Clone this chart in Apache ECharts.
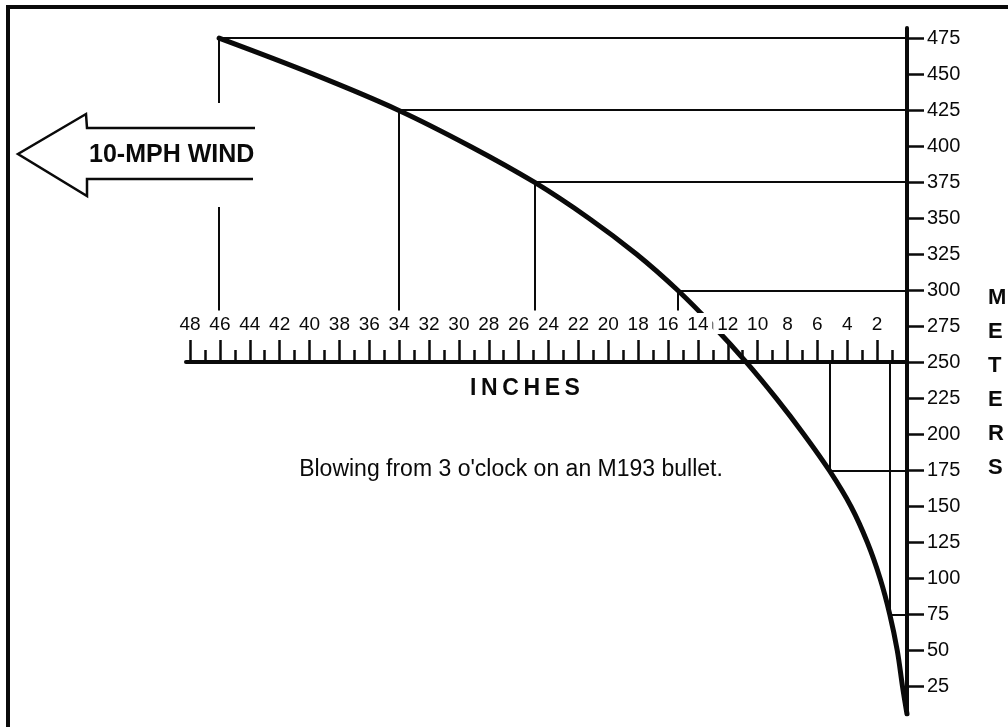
<!DOCTYPE html>
<html>
<head>
<meta charset="utf-8">
<script src="https://cdn.jsdelivr.net/npm/echarts@6/dist/echarts.min.js"></script>
<style>
  html, body { margin: 0; padding: 0; background: #fff; }
  #chart { width: 1008px; height: 727px; }
</style>
</head>
<body>
<div id="chart"></div>
<script>
// Range in meters and horizontal wind drift in inches for the trajectory
const meters = [6, 25, 50, 75, 100, 125, 150, 175, 200, 225, 250, 275, 300, 325, 350, 375, 400, 425, 450, 475];
const driftInches = [0, 0.3, 0.65, 1.15, 1.8, 2.65, 3.75, 5.2, 6.9, 8.75, 10.75, 12.95, 15.35, 18.1, 21.3, 24.95, 29.25, 34.05, 39.75, 46.05];

// Ranges called out with leader lines
const markedMeters = [475, 425, 375, 300, 175, 75];

// Range scale tick labels (meters) and ruler labels (inches)
const meterTicks = [25, 50, 75, 100, 125, 150, 175, 200, 225, 250, 275, 300, 325, 350, 375, 400, 425, 450, 475];
const inchTicks = [2, 4, 6, 8, 10, 12, 14, 16, 18, 20, 22, 24, 26, 28, 30, 32, 34, 36, 38, 40, 42, 44, 46, 48];

const rulerMeters = 250;       // the inch ruler sits at this range
const leaderStopMeters = 286;  // upper leaders stop just above the ruler labels

const FONT = '"Liberation Sans", Arial, Helvetica, sans-serif';
const INK = '#0a0a0a';

const curve = meters.map((m, i) => [driftInches[i], m]);
const driftAt = m => driftInches[meters.indexOf(m)];

const leaders = [];
markedMeters.forEach(m => {
  const d = driftAt(m);
  leaders.push({ coords: [[d, m], [0, m]] });
  const stop = m > rulerMeters ? leaderStopMeters : rulerMeters;
  leaders.push({ coords: [[d, m], [d, stop]] });
});

const chart = echarts.init(document.getElementById('chart'), null, { renderer: 'canvas' });

chart.setOption({
  backgroundColor: '#fff',
  animation: false,
  grid: [
    { left: 190, width: 717, top: 28, bottom: 13 },
    { left: 186, width: 721, top: 0, height: 362 }
  ],
  xAxis: [
    { gridIndex: 0, type: 'value', min: 0, max: 48, inverse: true, show: false },
    {
      // inch ruler; shares the 0..48 scale of the trajectory axis
      gridIndex: 1, type: 'value', min: 0, max: 48.27, interval: 2, inverse: true,
      position: 'bottom', z: 10,
      axisLine: { show: true, lineStyle: { color: INK, width: 4 } },
      axisTick: { show: true, inside: true, length: 22, customValues: inchTicks, lineStyle: { color: INK, width: 2.5 } },
      minorTick: { show: true, splitNumber: 2, length: 12, lineStyle: { color: INK, width: 2.5 } },
      splitLine: { show: false },
      axisLabel: {
        inside: true, margin: 28, fontFamily: FONT, fontSize: 19, color: INK,
        backgroundColor: '#fff', padding: [2, 4, 0, 4],
        customValues: inchTicks,
        formatter: v => String(v)
      }
    }
  ],
  yAxis: [
    {
      gridIndex: 0, type: 'value', min: 6, max: 482, position: 'right',
      axisLine: { show: true, lineStyle: { color: INK, width: 4 } },
      axisTick: { show: true, length: 17, customValues: meterTicks, lineStyle: { color: INK, width: 2.5 } },
      splitLine: { show: false },
      axisLabel: {
        margin: 20, fontFamily: FONT, fontSize: 20, color: INK,
        customValues: meterTicks
      }
    },
    { gridIndex: 1, type: 'value', min: 0, max: 1, show: false }
  ],
  series: [
    {
      name: 'leaders', type: 'lines', coordinateSystem: 'cartesian2d',
      xAxisIndex: 0, yAxisIndex: 0, z: 1,
      lineStyle: { color: INK, width: 2, opacity: 1 },
      data: leaders
    },
    {
      name: 'trajectory', type: 'line', xAxisIndex: 0, yAxisIndex: 0, z: 2,
      data: curve, smooth: 0.35, showSymbol: false,
      lineStyle: { color: INK, width: 5, cap: 'round' }
    }
  ],
  graphic: [
    // frame
    { type: 'line', z: 20, shape: { x1: 8, y1: 7, x2: 1008, y2: 7 }, style: { stroke: INK, lineWidth: 4 } },
    { type: 'line', z: 20, shape: { x1: 8, y1: 5, x2: 8, y2: 727 }, style: { stroke: INK, lineWidth: 4 } },
    // clear space behind the wind arrow
    { type: 'rect', z: 15, shape: { x: 150, y: 103, width: 110, height: 104 }, style: { fill: '#fff' } },
    // wind arrow outline
    {
      type: 'polyline', z: 16,
      shape: { points: [[255, 128], [87, 128], [86, 114], [18, 154], [87, 196], [87, 179], [253, 179]] },
      style: { stroke: INK, lineWidth: 2.5, fill: null }
    },
    {
      type: 'text', z: 16, x: 89, y: 155,
      style: { text: '10-MPH WIND', font: 'bold 25px ' + FONT, fill: INK, verticalAlign: 'middle', align: 'left' }
    },
    {
      type: 'text', z: 16, x: 525, y: 389,
      style: { text: 'I\u2009N\u2009C\u2009H\u2009E\u2009S', font: 'bold 23px ' + FONT, fill: INK, verticalAlign: 'middle', align: 'center' }
    },
    {
      type: 'text', z: 16, x: 511, y: 470,
      style: { text: "Blowing from 3 o'clock on an M193 bullet.", font: '23px ' + FONT, fill: INK, verticalAlign: 'middle', align: 'center' }
    },
    {
      type: 'text', z: 16, x: 988, y: 281,
      style: { text: 'M\nE\nT\nE\nR\nS', font: 'bold 22px ' + FONT, fill: INK, lineHeight: 34, verticalAlign: 'top', align: 'left' }
    }
  ]
});
</script>
</body>
</html>
